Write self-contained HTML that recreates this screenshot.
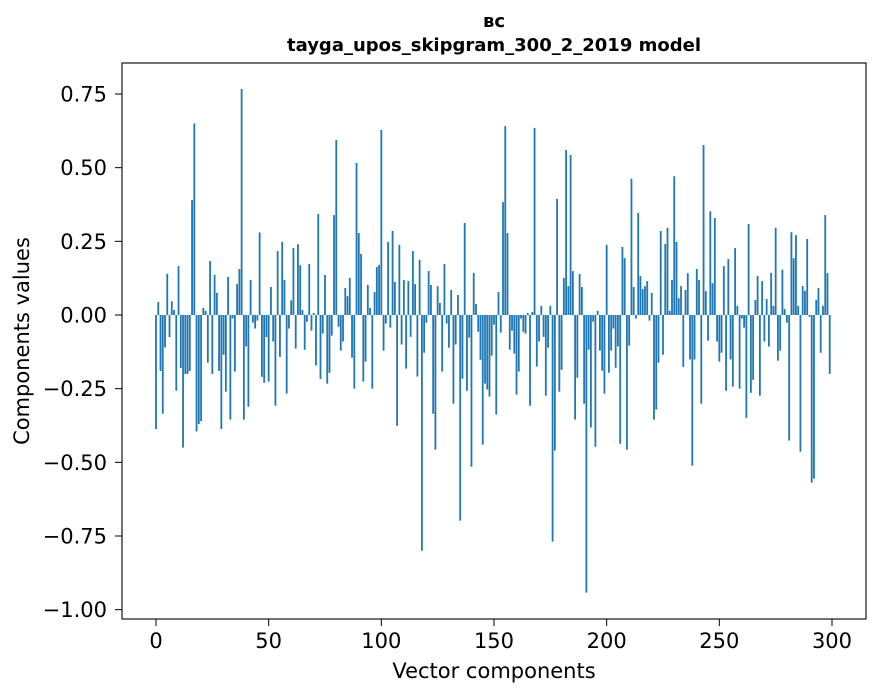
<!DOCTYPE html>
<html><head><meta charset="utf-8"><style>
body{margin:0;background:#fff;}
svg{display:block;font-family:"DejaVu Sans","Liberation Sans",sans-serif;}
</style></head><body>
<svg id="chart" width="880" height="696" viewBox="0 0 880 696" xmlns="http://www.w3.org/2000/svg">
<rect width="880" height="696" fill="#fff"/>
<text x="494" y="27" text-anchor="middle" font-size="18" font-weight="bold">вс</text>
<text x="494" y="51" text-anchor="middle" font-size="18" font-weight="bold">tayga_upos_skipgram_300_2_2019 model</text>
<g id="bars"></g>
<g id="xticks"></g>
<g id="yticks"></g>
<rect x="122" y="63" width="744" height="556" fill="none" stroke="#000" stroke-width="1.1"/>
<text x="494" y="678" text-anchor="middle" font-size="21">Vector components</text>
<text x="0" y="0" transform="translate(29,341) rotate(-90)" text-anchor="middle" font-size="21">Components values</text>
</svg>
<script>
const values = [-0.387,0.044,-0.19,-0.335,-0.11,0.14,-0.075,0.047,0.017,-0.257,0.166,-0.18,-0.45,-0.2,-0.2,-0.19,0.39,0.65,-0.395,-0.37,-0.36,0.024,0.014,-0.162,0.183,-0.2,0.136,0.075,-0.19,-0.387,-0.135,-0.26,0.129,-0.355,-0.012,-0.192,0.105,0.156,0.767,
-0.355,-0.107,-0.311,0.119,-0.026,-0.046,-0.019,0.28,-0.21,-0.23,-0.075,-0.226,0.095,-0.09,-0.308,0.217,-0.142,0.248,0.119,-0.267,-0.046,0.05,0.227,-0.114,0.24,0.169,0.017,-0.118,-0.023,0.173,-0.053,0.007,-0.171,0.343,-0.217,-0.063,
0.136,-0.233,-0.196,-0.07,0.339,0.594,-0.04,-0.121,-0.09,0.092,0.064,0.126,-0.145,-0.25,0.516,0.278,0.207,-0.226,-0.158,0.102,0.024,-0.25,0.078,0.163,0.17,0.628,-0.121,-0.029,0.248,-0.043,0.285,0.112,-0.376,0.238,-0.1,0.119,-0.182,0.115,-0.074,0.217,0.105,-0.209,0.187,-0.8,-0.128,-0.026,0.149,0.102,-0.335,-0.457,0.098,0.041,-0.192,0.173,-0.029,-0.111,0.085,-0.301,-0.1,0.068,-0.698,-0.216,0.312,-0.257,-0.077,-0.515,0.143,0.037,-0.057,-0.152,-0.44,-0.233,-0.253,-0.277,-0.138,-0.033,
-0.338,0.078,-0.06,0.383,0.641,0.278,-0.118,-0.053,-0.131,-0.27,-0.192,-0.012,-0.057,-0.063,0.007,-0.308,0.01,0.635,-0.175,-0.09,0.031,-0.074,-0.274,-0.111,0.031,-0.769,-0.46,0.394,-0.26,-0.186,0.126,0.56,0.098,0.543,0.149,-0.355,-0.213,0.139,0.095,-0.301,-0.942,-0.118,-0.382,-0.023,-0.447,0.014,-0.121,-0.189,-0.267,0.238,-0.196,-0.121,-0.046,-0.179,-0.107,-0.437,0.231,0.193,-0.457,-0.104,0.462,0.095,-0.012,0.346,0.132,0.088,0.098,0.115,-0.019,0.075,-0.355,-0.321,-0.162,0.285,-0.135,
0.241,0.296,0.014,0.119,0.471,0.248,0.057,0.098,-0.176,0.085,0.142,-0.151,-0.511,-0.151,0.156,0.119,-0.301,0.577,0.081,-0.087,0.352,0.108,0.329,-0.09,-0.158,-0.128,0.166,-0.257,0.19,-0.151,-0.243,0.227,0.031,-0.25,-0.012,-0.043,-0.349,0.309,-0.264,-0.22,0.051,0.132,-0.274,0.115,-0.09,0.054,-0.107,0.143,0.031,0.296,-0.155,-0.121,0.154,0.02,-0.026,-0.426,0.281,0.193,0.271,0.031,-0.464,0.098,0.082,0.258,-0.006,-0.569,-0.555,0.051,0.092,-0.128,0.031,0.339,0.142,-0.2];
const xTicks = [0,50,100,150,200,250,300];
const yTicks = [0.75,0.5,0.25,0,-0.25,-0.5,-0.75,-1.0];
const yTickLabels = ["0.75","0.50","0.25","0.00","\u22120.25","\u22120.50","\u22120.75","\u22121.00"];

const NS="http://www.w3.org/2000/svg";
const xs = i => 156 + 2.2533*i;
const ys = v => 315 - 294.67*v;
const bars=document.getElementById('bars');
values.forEach((v,i)=>{
  const r=document.createElementNS(NS,'rect');
  
  
  const y0=ys(0), y1=ys(v);
  r.setAttribute('x',xs(i-0.4));
  r.setAttribute('width',2.2533*0.8);
  r.setAttribute('y',Math.min(y0,y1));
  r.setAttribute('height',Math.max(Math.abs(y1-y0),0.3));
  r.setAttribute('fill','#1f77b4');
  bars.appendChild(r);
});
const xg=document.getElementById('xticks');
xTicks.forEach(t=>{
  const x=xs(t);
  const l=document.createElementNS(NS,'line');
  
  
  l.setAttribute('x1',x);l.setAttribute('x2',x);l.setAttribute('y1',619);l.setAttribute('y2',626);
  l.setAttribute('stroke','#000');
  xg.appendChild(l);
  const tx=document.createElementNS(NS,'text');
  
  
  tx.setAttribute('x',x);tx.setAttribute('y',648);tx.setAttribute('text-anchor','middle');tx.setAttribute('font-size','21');
  tx.textContent=String(t);
  xg.appendChild(tx);
});
const yg=document.getElementById('yticks');
yTicks.forEach((t,k)=>{
  const y=ys(t);
  const l=document.createElementNS(NS,'line');
  
  
  l.setAttribute('x1',115);l.setAttribute('x2',122);l.setAttribute('y1',y);l.setAttribute('y2',y);
  l.setAttribute('stroke','#000');
  yg.appendChild(l);
  const tx=document.createElementNS(NS,'text');
  
  
  tx.setAttribute('x',107);tx.setAttribute('y',y+7.5);tx.setAttribute('text-anchor','end');tx.setAttribute('font-size','21');
  tx.textContent=yTickLabels[k];
  yg.appendChild(tx);
});
</script>
</body></html>
